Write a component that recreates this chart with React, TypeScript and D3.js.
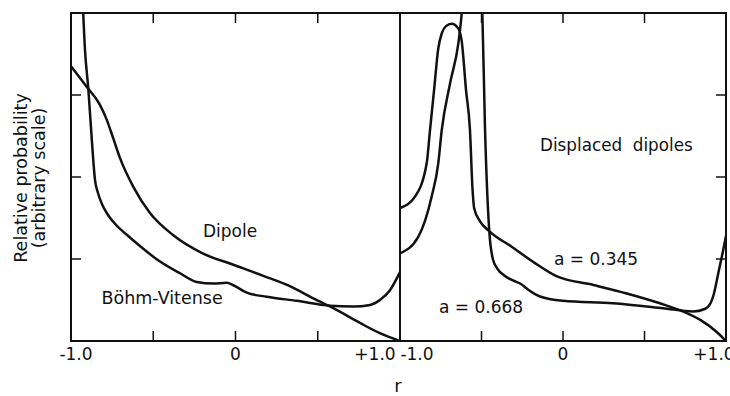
import React from "react";
import * as d3 from "d3";

// ---------- data ----------
const rTicks = [-1, 0, 1];
const rTickLabels = ["-1.0", "0", "+1.0"];
const rMinorTicks = [-0.5, 0, 0.5];
const probTicks = [1, 2, 3];

// left panel: [r, relative probability]
const dipole: [number, number][] = [
  [-1.0, 3.35], [-0.905, 3.1], [-0.824, 2.88], [-0.783, 2.7], [-0.743, 2.47],
  [-0.702, 2.23], [-0.621, 1.88], [-0.52, 1.56], [-0.378, 1.29], [-0.2, 1.07],
  [-0.013, 0.93], [0.169, 0.795], [0.34, 0.66], [0.473, 0.52], [0.595, 0.4],
  [0.757, 0.22], [0.878, 0.095], [1.0, 0.0],
];
const bohmVitense: [number, number][] = [
  [-0.932, 4.3], [-0.915, 3.55], [-0.895, 3.08], [-0.874, 2.47], [-0.854, 1.963],
  [-0.836, 1.805], [-0.812, 1.671], [-0.775, 1.537], [-0.726, 1.415], [-0.666, 1.305],
  [-0.581, 1.159], [-0.477, 0.994], [-0.337, 0.826], [-0.236, 0.72], [-0.135, 0.7],
  [-0.053, 0.71], [-0.013, 0.68], [0.068, 0.59], [0.19, 0.54], [0.372, 0.49],
  [0.574, 0.43], [0.716, 0.42], [0.818, 0.44], [0.878, 0.5], [0.939, 0.62], [1.0, 0.84],
];
// right panel: displaced dipoles
const a345: [number, number][] = [
  [-1.0, 1.62], [-0.908, 1.76], [-0.836, 2.17], [-0.816, 2.57], [-0.791, 3.06],
  [-0.765, 3.57], [-0.744, 3.75], [-0.718, 3.84], [-0.683, 3.87], [-0.642, 3.81],
  [-0.621, 3.65], [-0.595, 3.06], [-0.571, 2.58], [-0.555, 1.85], [-0.545, 1.62],
  [-0.509, 1.46], [-0.458, 1.35], [-0.315, 1.15], [-0.172, 0.95], [-0.04, 0.79],
  [0.186, 0.683], [0.391, 0.58], [0.595, 0.46], [0.738, 0.36], [0.84, 0.26],
  [0.943, 0.11], [1.0, 0.0],
];
const a668: [number, number][] = [
  [-1.0, 1.07], [-0.888, 1.27], [-0.806, 1.76], [-0.765, 2.17], [-0.744, 2.57],
  [-0.693, 3.14], [-0.642, 3.63], [-0.632, 3.79], [-0.621, 4.0], [-0.61, 4.25],
  [-0.558, 8.0],
  [-0.505, 4.3], [-0.495, 4.0], [-0.479, 2.63], [-0.452, 1.33], [-0.429, 0.99],
  [-0.405, 0.89], [-0.356, 0.793], [-0.307, 0.738], [-0.258, 0.695], [-0.215, 0.628],
  [-0.141, 0.543], [0.0, 0.49], [0.307, 0.46], [0.613, 0.4], [0.799, 0.36],
  [0.87, 0.39], [0.905, 0.46], [0.925, 0.57], [0.953, 0.83], [0.983, 1.11],
  [1.0, 1.28],
];

// ---------- layout ----------
const W = 730;
const H = 396;
const top = 13;
const bottom = 341;
const leftPanel = { x0: 71, x1: 400 };
const rightPanel = { x0: 400, x1: 726 };
const FONT = "DejaVu Sans, sans-serif";

const y = d3.scaleLinear().domain([0, 4]).range([bottom, top]);
const xL = d3.scaleLinear().domain([-1, 1]).range([leftPanel.x0, leftPanel.x1]);
const xR = d3.scaleLinear().domain([-1, 1]).range([rightPanel.x0, rightPanel.x1]);

const mkLine = (x: d3.ScaleLinear<number, number>) =>
  d3
    .line<[number, number]>()
    .x((d) => x(d[0]))
    .y((d) => y(d[1]))
    .curve(d3.curveMonotoneX);

const lineL = mkLine(xL);
const lineR = mkLine(xR);

const leftLabelOffsets = [5, 0, -25];
const rightLabelOffsets = [17, 0, -12];

export default function App() {
  const tickLen = 10;
  const curveStyle = { fill: "none", stroke: "#111", strokeWidth: 2.5, strokeLinejoin: "round" as const };
  return (
    <svg
      width={W}
      height={H}
      viewBox={`0 0 ${W} ${H}`}
      style={{ position: "absolute", left: 0, top: 0, background: "#fff" }}
      fontFamily={FONT}
    >
      <defs>
        <clipPath id="clipL">
          <rect x={leftPanel.x0} y={top} width={leftPanel.x1 - leftPanel.x0} height={bottom - top} />
        </clipPath>
        <clipPath id="clipR">
          <rect x={rightPanel.x0} y={top} width={rightPanel.x1 - rightPanel.x0} height={bottom - top} />
        </clipPath>
      </defs>
      <rect x={0} y={0} width={W} height={H} fill="#fff" />

      {/* curves */}
      <g clipPath="url(#clipL)">
        <path d={lineL(dipole) || ""} {...curveStyle} />
        <path d={lineL(bohmVitense) || ""} {...curveStyle} />
      </g>
      <g clipPath="url(#clipR)">
        <path d={lineR(a345) || ""} {...curveStyle} />
        <path d={lineR(a668) || ""} {...curveStyle} />
      </g>

      {/* frames */}
      <rect x={leftPanel.x0} y={top} width={leftPanel.x1 - leftPanel.x0} height={bottom - top} fill="none" stroke="#111" strokeWidth={2} />
      <rect x={rightPanel.x0} y={top} width={rightPanel.x1 - rightPanel.x0} height={bottom - top} fill="none" stroke="#111" strokeWidth={2} />

      {/* y ticks */}
      {probTicks.map((t) => (
        <g key={"yt" + t} stroke="#111" strokeWidth={1.5}>
          <line x1={leftPanel.x0} x2={leftPanel.x0 + tickLen} y1={y(t)} y2={y(t)} />
          <line x1={rightPanel.x1 - tickLen} x2={rightPanel.x1} y1={y(t)} y2={y(t)} />
        </g>
      ))}
      {/* x ticks top and bottom */}
      {rMinorTicks.map((t) => (
        <g key={"xt" + t} stroke="#111" strokeWidth={1.5}>
          <line x1={xL(t)} x2={xL(t)} y1={bottom} y2={bottom - tickLen} />
          <line x1={xL(t)} x2={xL(t)} y1={top} y2={top + tickLen} />
          <line x1={xR(t)} x2={xR(t)} y1={bottom} y2={bottom - tickLen} />
          <line x1={xR(t)} x2={xR(t)} y1={top} y2={top + tickLen} />
        </g>
      ))}

      {/* tick labels */}
      {rTicks.map((t, i) => (
        <text key={"lL" + t} x={xL(t) + leftLabelOffsets[i]} y={360} fontSize={17} textAnchor="middle" fill="#111">
          {rTickLabels[i]}
        </text>
      ))}
      {rTicks.map((t, i) => (
        <text key={"lR" + t} x={xR(t) + rightLabelOffsets[i]} y={360} fontSize={17} textAnchor="middle" fill="#111">
          {rTickLabels[i]}
        </text>
      ))}

      {/* axis titles */}
      <text x={398} y={392} fontSize={18} textAnchor="middle" fill="#111">r</text>
      <text transform="translate(26.5,178) rotate(-90)" fontSize={17.5} textAnchor="middle" fill="#111">
        Relative probability
      </text>
      <text transform="translate(44.5,178) rotate(-90)" fontSize={17.5} textAnchor="middle" fill="#111">
        (arbitrary scale)
      </text>

      {/* annotations */}
      <text x={203} y={236.5} fontSize={17} fill="#111">Dipole</text>
      <text x={101.5} y={303.5} fontSize={17.5} fill="#111">Böhm-Vitense</text>
      <text x={540} y={151} fontSize={16.8} fill="#111" style={{ whiteSpace: "pre" }}>{"Displaced  dipoles"}</text>
      <text x={554} y={265} fontSize={17} fill="#111">a = 0.345</text>
      <text x={439} y={312.5} fontSize={17} fill="#111">a = 0.668</text>
    </svg>
  );
}
